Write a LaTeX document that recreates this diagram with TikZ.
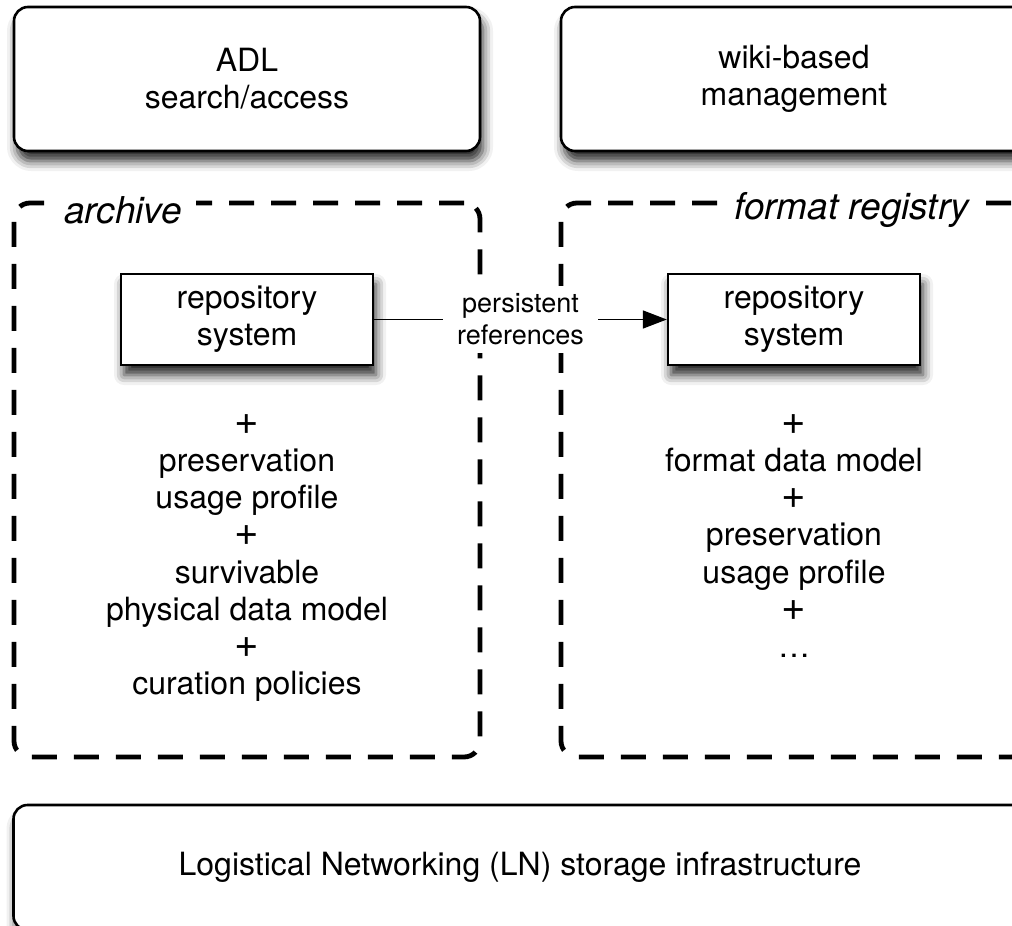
\documentclass[tikz,border=0pt]{standalone}
\usepackage{fontspec}
\setmainfont{TeX Gyre Heros}
\usetikzlibrary{arrows.meta,shadows.blur,positioning}

\newcommand{\plus}{{\fontsize{21}{18.6}\selectfont+}}

\begin{document}
\begin{tikzpicture}[x=0.5pt,y=-0.5pt,
		schatten/.style={blur shadow={shadow xshift=1.5pt, shadow yshift=-5pt, shadow blur radius=5pt, shadow opacity=85}},
		box/.style={draw, line width=1.3pt, rounded corners=7pt, fill=white, schatten,
			minimum width=233pt, minimum height=72pt, align=center, font=\fontsize{16}{18.6}\selectfont},
		repo/.style={draw, line width=1.2pt, fill=white, schatten,
			minimum width=126pt, minimum height=45.5pt, align=center, font=\fontsize{16}{18.6}\selectfont},
		rahmen/.style={draw, line width=2.4pt, rounded corners=8pt, dash pattern=on 12.5pt off 8.5pt,
			minimum width=233pt, minimum height=277pt},
		titel/.style={fill=white, inner xsep=7pt, inner ysep=3pt, font=\fontsize{18.5}{20}\selectfont\itshape},
		liste/.style={anchor=north, inner sep=0pt, align=center, font=\fontsize{16}{18.6}\selectfont},
		verweis/.style={fill=white, inner xsep=7pt, inner ysep=4pt, align=center, font=\fontsize{13.5}{16}\selectfont},
		pfeil/.style={line width=0.8pt, -{Triangle[length=12pt, width=9pt]}}]

			\useasboundingbox (0,0) rectangle (1012,926);

			% Obere Kaesten
			\node[box] (adl) at (247,79) {ADL\\search/access};
			\node[box] (wiki) at (794,79) {wiki-based\\management};

			% Gestrichelte Rahmen
			\node[rahmen] (archiv) at (247,480) {};
			\node[rahmen] (register) at (794,480) {};
			\node[titel] (archivtitel) at (123,210) {archive};
			\node[titel] (registertitel) at (852,210) {format registry};

			% Repository-Systeme
			\node[repo] (repoA) at (247,319.5) {repository\\system};
			\node[repo] (repoB) at (794,319.5) {repository\\system};

			% Verweis
			\draw[pfeil] (repoA) -- node[verweis] (verweis) {persistent\\references} (repoB);

			% Listen
			\node[liste] (listeA) at (247,414) {\plus\\preservation\\usage profile\\\plus\\survivable\\physical data model\\\plus\\curation policies};
			\node[liste] (listeB) at (794,414) {\plus\\format data model\\\plus\\preservation\\usage profile\\\plus\\\dots};

			% Unterer Kasten
			\node[box, minimum width=506.5pt, minimum height=62.5pt] (ln) at (520,867.5) {Logistical Networking (LN) storage infrastructure};

		\end{tikzpicture}
\end{document}
